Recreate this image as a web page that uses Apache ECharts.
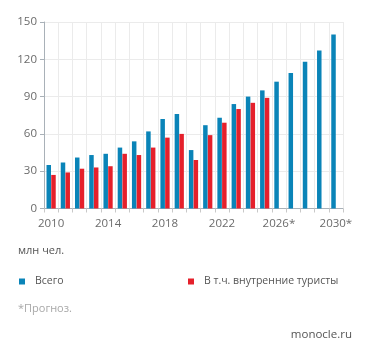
<!DOCTYPE html>
<html><head><meta charset="utf-8">
<script src="https://cdn.jsdelivr.net/npm/echarts@6/dist/echarts.min.js"></script>
<style>html,body{margin:0;padding:0;background:#fff}#c{width:371px;height:358px}</style>
</head><body><div id="c"></div>
<script>
const years = ['2010','2011','2012','2013','2014','2015','2016','2017','2018','2019','2020','2021','2022','2023','2024','2025','2026*','2027*','2028*','2029*','2030*'];
const total = [35,37,41,43,44,49,54,62,72,76,47,67,73,84,90,95,102,109,118,127,140];
const domestic = [27,29,32,33,34,44,43,49,57,60,39,59,69,80,85,89,null,null,null,null,null];
const yTicks = [0,30,60,90,120,150];

const BLUE = '#0a84b8', RED = '#e5202b';
const FONT = '"Open Sans", sans-serif';
const FS = 11;
const chart = echarts.init(document.getElementById('c'), null, {renderer:'canvas'});
chart.setOption({
  animation:false,
  textStyle:{fontFamily:FONT},
  grid:{left:44,right:28,top:22,bottom:149.5,containLabel:false},
  xAxis:{type:'category',data:years,boundaryGap:true,
    axisLine:{lineStyle:{color:'#a9b1b8',width:1}},
    axisTick:{show:true,interval:0,length:4,lineStyle:{color:'#c8c8c8'}},
    splitLine:{show:true,interval:0,lineStyle:{color:'#ebebeb',width:1}},
    axisLabel:{interval:3,color:'#6b6b6b',fontSize:FS+0.5,fontFamily:FONT,margin:9}},
  yAxis:{type:'value',min:yTicks[0],max:yTicks[yTicks.length-1],interval:30,
    axisLine:{show:true,lineStyle:{color:'#a9b1b8',width:1}},
    axisTick:{show:true,length:4,lineStyle:{color:'#a9b1b8'}},
    splitLine:{show:true,lineStyle:{color:'#ebebeb',width:1}},
    axisLabel:{color:'#6b6b6b',fontSize:FS+0.5,fontFamily:FONT,margin:7}},
  legend:[
    {data:['Всего'],left:14,top:271,itemWidth:6,itemHeight:6,icon:'rect',itemGap:0,
     textStyle:{color:'#555',fontSize:10.5,fontFamily:FONT,padding:[0,0,0,5]}},
    {data:['В т.ч. внутренние туристы'],left:183,top:271,itemWidth:6,itemHeight:6,icon:'rect',
     textStyle:{color:'#555',fontSize:10.5,fontFamily:FONT,padding:[0,0,0,5]}}
  ],
  graphic:[
    {type:'text',left:18,top:245,style:{text:'млн чел.',fill:'#555',font:FS+'px '+FONT}},
    {type:'text',left:18,top:303,style:{text:'*Прогноз.',fill:'#a8a8a8',font:FS+'px '+FONT}},
    {type:'text',right:19,top:329,style:{text:'monocle.ru',fill:'#555',font:(FS+0.5)+'px '+FONT}}
  ],
  series:[
    {name:'Всего',type:'bar',data:total,barWidth:4.5,barGap:'5%',itemStyle:{color:BLUE}},
    {name:'В т.ч. внутренние туристы',type:'bar',data:domestic,barWidth:4.5,barGap:'5%',itemStyle:{color:RED}}
  ]
});
</script></body></html>
